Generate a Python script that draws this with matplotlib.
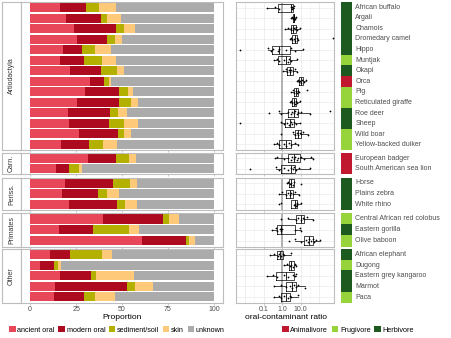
import numpy as np
import matplotlib.pyplot as plt
from matplotlib import cbook
from matplotlib.patches import Patch

plt.rcParams['font.family'] = ['Liberation Sans', 'DejaVu Sans']

W, H = 451, 338

# taxonomic groups (facets), top to bottom
order_names = ['Artiodactyla', 'Carn.', 'Periss.', 'Primates', 'Other']
order_sizes = [14, 2, 3, 3, 5]

species = ['African buffalo', 'Argali', 'Chamois', 'Dromedary camel', 'Hippo',
           'Muntjak', 'Okapi', 'Orca', 'Pig', 'Reticulated giraffe', 'Roe deer',
           'Sheep', 'Wild boar', 'Yellow-backed duiker',
           'European badger', 'South American sea lion',
           'Horse', 'Plains zebra', 'White rhino',
           'Central African red colobus', 'Eastern gorilla', 'Olive baboon',
           'African elephant', 'Dugong', 'Eastern grey kangaroo', 'Marmot', 'Paca']

diet = ['Herbivore', 'Herbivore', 'Herbivore', 'Herbivore', 'Herbivore',
        'Frugivore', 'Herbivore', 'Animalivore', 'Frugivore', 'Frugivore', 'Herbivore',
        'Herbivore', 'Frugivore', 'Frugivore',
        'Animalivore', 'Animalivore',
        'Herbivore', 'Herbivore', 'Herbivore',
        'Frugivore', 'Herbivore', 'Frugivore',
        'Herbivore', 'Frugivore', 'Herbivore', 'Herbivore', 'Frugivore']

# source proportions (%), same order as species
ancient_oral = [16.3, 19.6, 23.9, 25.4, 17.8, 16.3, 21.7, 32.6, 29.7, 25.4, 20.7, 21.4, 26.6, 16.8,
                31.7, 13.8, 18.7, 17.4, 21.0, 39.9, 15.8, 61.0, 10.9, 5.4, 16.3, 13.6, 13.2]
modern_oral = [14.1, 19.2, 22.8, 16.6, 10.5, 13.2, 16.9, 7.6, 18.9, 23.2, 22.8, 21.7, 21.2, 15.4,
               14.9, 7.6, 26.6, 19.6, 26.3, 32.2, 18.6, 24.1, 10.7, 7.6, 16.7, 39.3, 16.1]
sediment_soil = [6.9, 3.2, 4.4, 4.2, 7.2, 9.5, 8.5, 2.7, 4.8, 6.1, 4.3, 8.2, 3.5, 7.7,
                 7.0, 5.4, 9.0, 4.7, 4.5, 3.4, 19.2, 1.5, 17.4, 2.0, 2.9, 4.3, 6.0]
skin = [9.3, 7.3, 5.8, 4.0, 8.5, 7.6, 4.0, 1.1, 2.4, 4.2, 4.9, 7.2, 3.4, 7.2,
        3.8, 1.3, 4.0, 6.9, 6.5, 5.5, 5.6, 2.9, 5.4, 1.8, 20.6, 9.8, 10.7]
unknown = [100 - a - m - s - k for a, m, s, k in zip(ancient_oral, modern_oral, sediment_soil, skin)]

# per-sample oral/contaminant ratios, log10 units
log10_ratio = [
    [-0.85, -0.4, -0.2, 0.45, 0.52, 0.55, 0.6, 0.63],
    [0.5, 0.55, 0.58, 0.6, 0.62, 0.65, 0.7, 0.72],
    [0.15, 0.3, 0.45, 0.5, 0.58, 0.62, 0.68, 0.75, 0.8, 0.95],
    [0.4, 0.48, 0.55, 0.63, 0.7, 0.78, 0.85, 2.74],
    [-2.26, -0.76, -0.59, -0.48, -0.25, -0.15, 0.2, 0.5, 0.67, 1.13],
    [-0.42, -0.3, -0.2, 0.1, 0.3, 0.38, 0.45, 0.82],
    [0.02, 0.2, 0.28, 0.35, 0.42, 0.5, 0.58, 0.68, 0.8],
    [0.8, 0.85, 0.92, 0.98, 1.02, 1.08, 1.18, 1.3],
    [0.5, 0.58, 0.65, 0.72, 0.78, 0.85, 0.9, 1.35],
    [0.4, 0.48, 0.55, 0.62, 0.68, 0.75, 0.82, 0.95],
    [-0.69, -0.17, -0.08, 0.3, 0.45, 0.55, 0.62, 0.7, 0.8, 0.88, 1.0, 1.5, 2.61],
    [-2.3, -0.07, 0.1, 0.25, 0.35, 0.45, 0.55, 0.63, 0.75, 0.95],
    [-0.07, 0.6, 0.68, 0.78, 0.86, 0.95, 1.03, 1.15, 1.37],
    [-0.44, -0.3, -0.17, 0.1, 0.2, 0.38, 0.5, 0.7, 0.85],
    [-0.39, -0.26, 0.1, 0.3, 0.45, 0.55, 0.62, 0.7, 0.78, 0.88, 1.0, 1.2, 1.56, 1.69],
    [-1.74, -0.35, -0.2, 0.1, 0.3, 0.5, 0.6, 0.65, 0.76, 0.9, 1.5],
    [0.25, 0.32, 0.42, 0.5, 0.58, 0.65, 1.04],
    [-0.2, 0.0, 0.2, 0.3, 0.4, 0.5, 0.6, 0.7, 0.9],
    [-0.2, -0.07, 0.62, 0.68, 0.72, 0.78, 0.82, 1.04],
    [-0.07, 0.3, 0.75, 0.88, 1.0, 1.1, 1.2, 1.35, 1.69],
    [-0.54, -0.35, -0.26, -0.12, -0.07, 0.0, 0.67, 0.94, 1.04],
    [0.39, 0.67, 1.04, 1.3, 1.38, 1.45, 1.55, 1.65, 1.72, 1.85, 2.06],
    [-0.67, -0.45, -0.25, -0.15, -0.05, 0.05, 0.12, 0.48],
    [0.07, 0.28, 0.4, 0.5, 0.6, 0.68, 0.76],
    [-0.85, -0.48, -0.26, 0.1, 0.3, 0.6, 0.7, 0.75],
    [-0.44, -0.05, 0.2, 0.4, 0.55, 0.65, 0.75, 0.85, 1.22],
    [-0.44, -0.2, -0.05, 0.1, 0.3, 0.42, 0.5, 0.85],
]

seg_names = ['ancient oral', 'modern oral', 'sediment/soil', 'skin', 'unknown']
seg_colors = ['#E8475A', '#AD0A1F', '#B3B000', '#FFC97A', '#ABABAB']
diet_names = ['Animalivore', 'Frugivore', 'Herbivore']
diet_colors = {'Animalivore': '#C0182F', 'Frugivore': '#97D43B', 'Herbivore': '#1D5A1F'}

border = '#BDBDBD'
panel_y = [(2, 150), (152.7, 174.3), (177.5, 210), (213, 246.5), (249, 302.7)]
jit = [0.0, 0.12, -0.1, 0.06, -0.14, 0.1, -0.05, 0.15, -0.12, 0.03, 0.09, -0.08, 0.13, -0.03]


def px_box(x0, y0, x1, y1):
    return [x0 / W, 1 - y1 / H, (x1 - x0) / W, (y1 - y0) / H]


def style_frame(ax):
    for sp in ax.spines.values():
        sp.set_color(border)
        sp.set_linewidth(0.8)


fig = plt.figure(figsize=(W / 100, H / 100), dpi=100)
segs = [ancient_oral, modern_oral, sediment_soil, skin, unknown]

start = 0
for g, (name, n) in enumerate(zip(order_names, order_sizes)):
    y0, y1 = panel_y[g]
    idx = list(range(start, start + n))
    start += n
    ypos = np.arange(n)[::-1]
    last = g == len(order_names) - 1

    # strip on the left
    ax_s = fig.add_axes(px_box(2, y0, 21, y1))
    ax_s.set_xticks([])
    ax_s.set_yticks([])
    style_frame(ax_s)
    ax_s.text(0.5, 0.5, name, rotation=90, ha='center', va='center',
              fontsize=5, color='#333333', transform=ax_s.transAxes)

    # stacked bars
    ax = fig.add_axes(px_box(21, y0, 223, y1))
    left = np.zeros(n)
    for vals, col in zip(segs, seg_colors):
        v = np.array([vals[i] for i in idx])
        ax.barh(ypos, v, left=left, height=0.85, color=col, linewidth=0)
        left += v
    ax.set_xlim(-5, 105)
    ax.set_ylim(-0.55, n - 0.45)
    ax.set_yticks([])
    style_frame(ax)
    ax.set_xticks([0, 25, 50, 75, 100])
    ax.tick_params(axis='x', length=1.5, width=0.6, color=border, labelsize=5,
                   labelcolor='#4D4D4D', pad=0.6, labelbottom=last)

    # box plots of ratio
    axm = fig.add_axes(px_box(236, y0, 334, y1))
    axm.set_xscale('log')
    stats = cbook.boxplot_stats([np.array(log10_ratio[i]) for i in idx])
    for st in stats:
        for k in ('med', 'q1', 'q3', 'whislo', 'whishi', 'mean', 'cilo', 'cihi'):
            st[k] = 10 ** st[k]
        st['fliers'] = 10 ** np.asarray(st['fliers'])
    for gx in [0.01, 0.1, 1, 10, 100]:
        axm.axvline(gx, color='#EBEBEB', lw=0.6, zorder=0)
    for gx in [10 ** -1.5, 10 ** -0.5, 10 ** 0.5, 10 ** 1.5]:
        axm.axvline(gx, color='#F3F3F3', lw=0.4, zorder=0)
    for y in ypos:
        axm.axhline(y, color='#EBEBEB', lw=0.5, zorder=0)
    axm.axvline(1, color='#ABABAB', lw=1.3, zorder=1)
    lp = dict(color='black', linewidth=0.5)
    axm.bxp(stats, positions=ypos, widths=0.8, orientation='horizontal',
            showfliers=False, showcaps=False, boxprops=lp, whiskerprops=lp,
            medianprops=dict(color='black', linewidth=0.6), manage_ticks=False,
            zorder=3)
    for y, i in zip(ypos, idx):
        vals = np.array(log10_ratio[i])
        offs = np.array([jit[k % len(jit)] for k in range(len(vals))])
        axm.scatter(10 ** vals, y + offs, s=1.6, color='black', linewidths=0, zorder=4)
    axm.set_xlim(10 ** -2.5, 10 ** 2.8)
    axm.set_ylim(-0.55, n - 0.45)
    axm.set_yticks([])
    axm.set_xticks([0.1, 1, 10])
    axm.set_xticklabels(['0.1', '1.0', '10.0'])
    axm.minorticks_off()
    style_frame(axm)
    axm.tick_params(axis='x', length=1.5, width=0.6, color=border, labelsize=5,
                    labelcolor='#4D4D4D', pad=0.6, labelbottom=last)

    # diet tiles + species names
    axt = fig.add_axes(px_box(341, y0, 352, y1))
    for y, i in zip(ypos, idx):
        axt.barh(y, 1, height=1, color=diet_colors[diet[i]], linewidth=0)
        axt.text(1.3, y, species[i], transform=axt.get_yaxis_transform(),
                 ha='left', va='center', fontsize=5, color='#4D4D4D')
    axt.set_xlim(0, 1)
    axt.set_ylim(-0.5, n - 0.5)
    axt.axis('off')

fig.text(122 / W, 1 - 317.5 / H, 'Proportion', ha='center', va='center', fontsize=6)
fig.text(286 / W, 1 - 317.5 / H, 'oral-contaminant ratio', ha='center', va='center', fontsize=6)

h1 = [Patch(facecolor=c, edgecolor='none', label=l) for l, c in zip(seg_names, seg_colors)]
fig.legend(handles=h1, loc='center left', bbox_to_anchor=(9 / W, 1 - 330 / H), ncol=5,
           frameon=False, fontsize=5.2, handlelength=0.9, handleheight=0.9,
           handletextpad=0.25, columnspacing=0.5, borderaxespad=0, borderpad=0)
h2 = [Patch(facecolor=diet_colors[d], edgecolor='none', label=d) for d in diet_names]
fig.legend(handles=h2, loc='center left', bbox_to_anchor=(282 / W, 1 - 330 / H), ncol=3,
           frameon=False, fontsize=5.2, handlelength=0.9, handleheight=0.9,
           handletextpad=0.25, columnspacing=0.5, borderaxespad=0, borderpad=0)

fig.savefig('out.png', dpi=100)
